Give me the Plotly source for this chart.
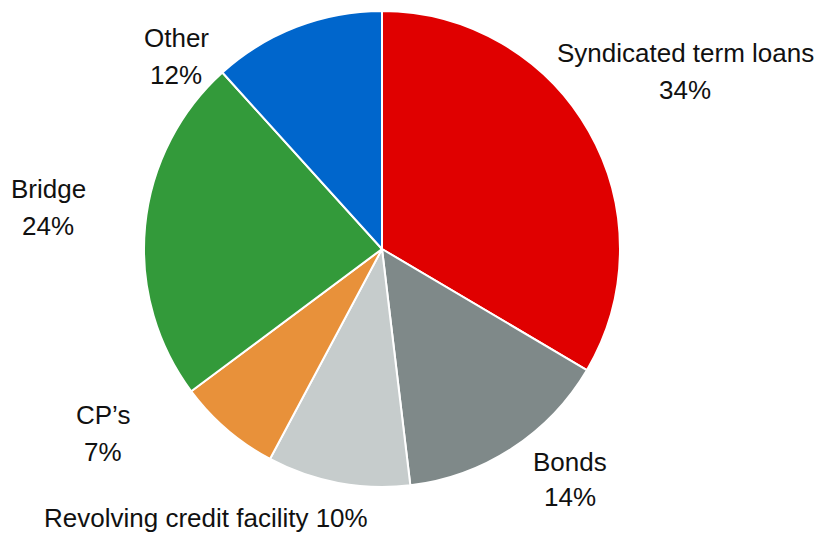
import plotly.graph_objects as go

categories = ["Syndicated term loans", "Bonds", "Revolving credit facility", "CP\u2019s", "Bridge", "Other"]
values = [33.5, 14.6, 9.7, 7.0, 23.5, 11.7]
pct_labels = ["34%", "14%", "10%", "7%", "24%", "12%"]
colors = ["#E00000", "#7F8989", "#C6CCCC", "#E8913A", "#339A3A", "#0066CC"]

# label line positions in pixels: (x center, y of first line, y of second line or None)
label_pos = [(685, 53, 90), (570, 462, 497), (206, 518, None), (103, 415, 452), (48, 189, 226), (176, 38, 75)]

W, H = 819, 534
cx, cy, r = 382, 249, 238

fig = go.Figure(go.Pie(
    labels=categories,
    values=values,
    sort=False,
    direction="clockwise",
    rotation=0,
    textinfo="none",
    hoverinfo="label+percent",
    marker=dict(colors=colors, line=dict(color="white", width=2)),
    domain=dict(x=[(cx - r) / W, (cx + r) / W], y=[1 - (cy + r) / H, 1 - (cy - r) / H]),
    showlegend=False,
))

font = dict(family="Liberation Sans, Arial, sans-serif", size=26, color="#111111")
for cat, pct, (px, y1, y2) in zip(categories, pct_labels, label_pos):
    if y2 is None:
        lines = [(f"{cat} {pct}", y1)]
    else:
        lines = [(cat, y1), (pct, y2)]
    for txt, py in lines:
        fig.add_annotation(
            x=px / W, y=1 - py / H, xref="paper", yref="paper",
            text=txt, showarrow=False, xanchor="center", yanchor="middle",
            font=font,
        )

fig.update_layout(
    width=W, height=H,
    margin=dict(l=0, r=0, t=0, b=0),
    paper_bgcolor="white",
    plot_bgcolor="white",
)

fig.write_html("out.html", config={"displayModeBar": False},
               post_script="document.body.style.margin='0';document.body.style.overflow='hidden';")
